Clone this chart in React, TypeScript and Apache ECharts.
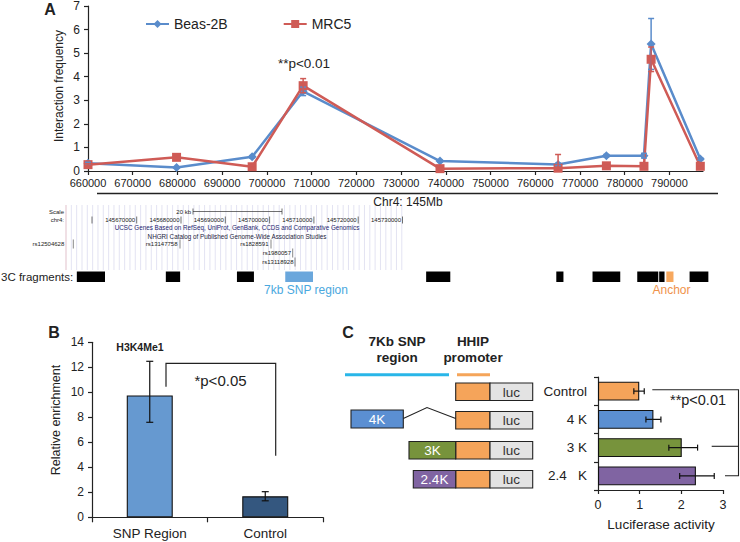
import React, { useEffect, useRef } from "react";
import * as echarts from "echarts";

const FONT = "'Liberation Sans', Arial, Helvetica, sans-serif";

// ---------- Panel A: 3C interaction frequency ----------
const positionsA = [660000, 679800, 696700, 708100, 738700, 765100, 775900, 784300, 785900, 796900];
const beasValues = [0.33, 0.15, 0.6, 3.38, 0.42, 0.28, 0.65, 0.65, 5.39, 0.51];
const beasErrors = [0.04, 0.03, 0.05, 0.18, 0.04, 0.05, 0.05, 0.1, 1.08, 0.05];
const mrc5Values = [0.27, 0.58, 0.18, 3.62, 0.1, 0.12, 0.22, 0.2, 4.74, 0.2];
const mrc5Errors = [0.04, 0.05, 0.05, 0.3, 0.03, 0.58, 0.1, 0.05, 0.52, 0.05];

// 3C fragments (genomic offsets in the same scale as panel A)
const fragmentStarts = [657500, 677400, 693300, 704100, 735600, 764700, 772800, 782800, 787700, 789300, 794500];
const fragmentEnds = [663800, 680600, 697100, 710300, 741000, 766300, 779000, 787500, 788900, 790900, 798700];
const fragmentKinds = ["3C", "3C", "3C", "SNP", "3C", "3C", "3C", "3C", "3C", "anchor", "3C"];

// Genome browser labels
const browserPositions = ["145670000", "145680000", "145690000", "145700000", "145710000", "145720000", "145730000"];
const snpNames = ["rs12504628", "rs13147758", "rs1828591", "rs1980057", "rs13118928"];

// ---------- Panel B: H3K4Me1 enrichment ----------
const enrichCategories = ["SNP Region", "Control"];
const enrichValues = [9.75, 1.68];
const enrichLow = [7.6, 1.32];
const enrichHigh = [12.48, 2.05];

// ---------- Panel C: luciferase ----------
const lucCategories = ["Control", "4 K", "3 K", "2.4\u00a0\u00a0\u00a0K"];
const lucValues = [0.99, 1.33, 2.01, 2.35];
const lucLow = [0.86, 1.15, 1.7, 1.96];
const lucHigh = [1.11, 1.51, 2.39, 2.79];

const BLUE = "#5a8ccb";
const RED = "#cf5b56";
const lucColors = ["#f5a45a", "#5b8fd2", "#77933c", "#8064a2"];
const enrichColors = ["#6699d0", "#34577f"];
const AX = "#222";

const txt = (text: string, x: number, y: number, size: number, o: any = {}) => ({
  type: "text",
  x,
  y,
  rotation: o.rotation || 0,
  silent: true,
  z: 10,
  style: {
    text,
    fontSize: size,
    fontFamily: FONT,
    fontWeight: o.bold ? "bold" : "normal",
    fill: o.color || "#222",
    textAlign: o.align || "center",
    textVerticalAlign: "middle",
    align: o.align || "center",
    verticalAlign: "middle",
    lineHeight: o.lineHeight,
  },
});
const ln = (x1: number, y1: number, x2: number, y2: number, stroke = "#222", lineWidth = 1) => ({
  type: "line",
  silent: true,
  z: 10,
  shape: { x1, y1, x2, y2 },
  style: { stroke, lineWidth },
});
const box = (x: number, y: number, w: number, h: number, fill: string) => ({
  type: "rect",
  silent: true,
  z: 10,
  shape: { x, y, width: w, height: h },
  style: { fill, stroke: "#222", lineWidth: 1.1 },
});

function buildGraphics() {
  const g: any[] = [];
  // panel letters
  g.push(txt("A", 50, 9, 16, { bold: true }));
  g.push(txt("B", 54, 332, 16, { bold: true }));
  g.push(txt("C", 348, 332, 16, { bold: true }));

  // Panel A texts
  g.push(txt("Interaction frequency", 59, 86, 12, { rotation: Math.PI / 2 }));
  g.push(txt("**p<0.01", 304, 63, 13.5));
  g.push(ln(97, 193.5, 718, 193.5, "#222", 1.3));
  g.push(txt("Chr4: 145Mb", 408, 202, 12));

  // genome browser background lines
  for (let x = 66; x <= 406; x += 5.33) {
    g.push({ type: "line", silent: true, z: 1, shape: { x1: x, y1: 205, x2: x, y2: 270 }, style: { stroke: "#dcdcef", lineWidth: 0.8 } });
  }
  g.push({ type: "line", silent: true, z: 1, shape: { x1: 66, y1: 205, x2: 66, y2: 270 }, style: { stroke: "#f0c8c8", lineWidth: 0.8 } });
  const small = 6;
  g.push(txt("Scale", 64, 212, small, { align: "right" }));
  g.push(txt("chr4:", 64, 220, small, { align: "right" }));
  g.push(txt("20 kb", 191, 212, small, { align: "right" }));
  g.push(ln(193, 211.5, 282, 211.5, "#333", 0.7));
  g.push(ln(193, 208.5, 193, 214.5, "#333", 0.7));
  g.push(ln(282, 208.5, 282, 214.5, "#333", 0.7));
  g.push(ln(92, 216.5, 92, 223.5, "#333", 0.7));
  const posEnds = [136.7, 181, 225.3, 269.6, 313.9, 358.2, 402.5];
  browserPositions.forEach((p, i) => {
    g.push(txt(p, posEnds[i] - 1.5, 220, small, { align: "right" }));
    g.push(ln(posEnds[i], 216.5, posEnds[i], 223.5, "#333", 0.7));
  });
  g.push(txt("UCSC Genes Based on RefSeq, UniProt, GenBank, CCDS and Comparative Genomics", 237, 227.5, 6.3, { color: "#1c1c6e" }));
  g.push(txt("NHGRI Catalog of Published Genome-Wide Association Studies", 237, 236, 6.3, { color: "#1c1c40" }));
  const snpRight = [64.3, 177.5, 268.5, 291, 293.5];
  const snpBar = [73.3, 180, 271, 292.7, 295];
  const snpY = [244, 244, 244, 253, 262];
  snpNames.forEach((s, i) => {
    g.push(txt(s, snpRight[i], snpY[i], small, { align: "right" }));
    g.push(ln(snpBar[i], snpY[i] - 4.5, snpBar[i], snpY[i] + 4.5, "#555", 0.7));
  });
  g.push(txt("3C fragments:", 1, 277, 11.5, { align: "left" }));
  g.push(txt("7kb SNP region", 306, 290, 12, { color: "#4aa8de" }));
  g.push(txt("Anchor", 671.5, 290, 12, { color: "#f0934a" }));

  // Panel B texts
  g.push(txt("Relative enrichment", 56, 420, 12.5, { rotation: Math.PI / 2 }));
  g.push(txt("H3K4Me1", 140, 347, 10.5, { bold: true }));
  g.push({
    type: "polyline",
    silent: true,
    z: 10,
    shape: { points: [[166, 386.7], [166, 363.3], [275.7, 363.3], [275.7, 455.7]] },
    style: { stroke: "#222", lineWidth: 1.2, fill: "none" },
  });
  g.push(txt("*p<0.05", 220.5, 380, 15));

  // Panel C diagram
  g.push(txt("7Kb SNP\nregion", 397, 349.5, 13.5, { bold: true, lineHeight: 15.5 }));
  g.push(txt("HHIP\npromoter", 473, 349.5, 13.5, { bold: true, lineHeight: 15.5 }));
  g.push(ln(345, 374.7, 449, 374.7, "#29b6e8", 3));
  g.push(ln(457, 374.7, 490, 374.7, "#f5a55a", 3));
  const rowTop = [383, 411.5, 441.5, 470.5];
  const rowH = 17.5;
  rowTop.forEach((y) => {
    g.push(box(455.7, y, 34.3, rowH, "#f5a45a"));
    g.push(box(490, y, 42.7, rowH, "#e3e3e3"));
    g.push(txt("luc", 511.3, y + rowH / 2 + 0.5, 13.5, { color: "#333" }));
  });
  g.push(box(351, 410, 52.3, 18, "#5b8fd2"));
  g.push(txt("4K", 377, 419.5, 13.5, { color: "#fff" }));
  g.push({
    type: "polyline",
    silent: true,
    z: 10,
    shape: { points: [[403.3, 418.5], [427, 407.5], [455.7, 418.5]] },
    style: { stroke: "#222", lineWidth: 1.1, fill: "none" },
  });
  g.push(box(409, rowTop[2], 46.7, rowH, "#77933c"));
  g.push(txt("3K", 432.5, rowTop[2] + rowH / 2 + 0.5, 13.5, { color: "#fff" }));
  g.push(box(413.3, rowTop[3], 42.4, rowH, "#8064a2"));
  g.push(txt("2.4K", 434.5, rowTop[3] + rowH / 2 + 0.5, 13.5, { color: "#fff" }));

  // Panel C significance
  g.push({
    type: "polyline",
    silent: true,
    z: 10,
    shape: { points: [[652.3, 389.7], [738.5, 389.7], [738.5, 475.7], [725, 475.7]] },
    style: { stroke: "#222", lineWidth: 1.1, fill: "none" },
  });
  g.push(ln(711.7, 446.3, 738.5, 446.3, "#222", 1.1));
  g.push(txt("**p<0.01", 698, 400, 14.5));
  g.push(txt("Luciferase activity", 661, 524, 13.5));
  return g;
}

function errV(color: string, lw: number, cap: number) {
  return (params: any, api: any) => {
    const c = api.value(0);
    const lo = api.coord([c, api.value(1)]);
    const hi = api.coord([c, api.value(2)]);
    const style = { stroke: color, lineWidth: lw };
    return {
      type: "group",
      children: [
        { type: "line", shape: { x1: lo[0], y1: lo[1], x2: hi[0], y2: hi[1] }, style },
        { type: "line", shape: { x1: lo[0] - cap, y1: lo[1], x2: lo[0] + cap, y2: lo[1] }, style },
        { type: "line", shape: { x1: hi[0] - cap, y1: hi[1], x2: hi[0] + cap, y2: hi[1] }, style },
      ],
    };
  };
}

function errH(color: string, lw: number, cap: number) {
  return (params: any, api: any) => {
    const c = api.value(2);
    const lo = api.coord([api.value(0), c]);
    const hi = api.coord([api.value(1), c]);
    const style = { stroke: color, lineWidth: lw };
    return {
      type: "group",
      children: [
        { type: "line", shape: { x1: lo[0], y1: lo[1], x2: hi[0], y2: hi[1] }, style },
        { type: "line", shape: { x1: lo[0], y1: lo[1] - cap, x2: lo[0], y2: lo[1] + cap }, style },
        { type: "line", shape: { x1: hi[0], y1: hi[1] - cap, x2: hi[0], y2: hi[1] + cap }, style },
      ],
    };
  };
}

const axisLine = { show: true, lineStyle: { color: AX, width: 1.2 } };
const axisTick = { show: true, length: 4, lineStyle: { color: AX, width: 1.2 } };

const option: any = {
  animation: false,
  textStyle: { fontFamily: FONT },
  legend: {
    data: ["Beas-2B", "MRC5"],
    left: 140,
    top: 12,
    itemWidth: 23,
    itemHeight: 10,
    itemGap: 55,
    textStyle: { fontSize: 14, color: "#222", fontFamily: FONT },
  },
  grid: [
    { left: 88, top: 3, width: 615, height: 168 },
    { left: 92, top: 342.3, width: 231, height: 175 },
    { left: 598, top: 377, width: 125, height: 113 },
  ],
  xAxis: [
    {
      type: "value",
      gridIndex: 0,
      min: 660000,
      max: 797500,
      interval: 10000,
      axisLine,
      axisTick,
      splitLine: { show: false },
      axisLabel: { formatter: (v: number) => String(v), fontSize: 11, color: AX, margin: 6, showMaxLabel: false },
    },
    {
      type: "category",
      gridIndex: 1,
      data: enrichCategories,
      axisLine,
      axisTick: { show: true, length: 5, lineStyle: { color: AX, width: 1.2 } },
      axisLabel: { fontSize: 13.5, color: AX, margin: 9 },
    },
    {
      type: "value",
      gridIndex: 2,
      min: 0,
      max: 3,
      interval: 1,
      axisLine,
      axisTick,
      splitLine: { show: false },
      axisLabel: { fontSize: 12.5, color: AX, margin: 8 },
    },
  ],
  yAxis: [
    {
      type: "value",
      gridIndex: 0,
      min: 0,
      max: 7,
      interval: 1,
      axisLine,
      axisTick,
      splitLine: { show: false },
      axisLabel: { fontSize: 12, color: AX, margin: 8 },
    },
    {
      type: "value",
      gridIndex: 1,
      min: 0,
      max: 14,
      interval: 2,
      axisLine,
      axisTick,
      splitLine: { show: false },
      axisLabel: { fontSize: 12, color: AX, margin: 8 },
    },
    {
      type: "category",
      gridIndex: 2,
      inverse: true,
      data: lucCategories,
      axisLine,
      axisTick: { show: true, length: 4, lineStyle: { color: AX, width: 1.2 } },
      axisLabel: { fontSize: 13.5, color: AX, margin: 11 },
    },
  ],
  series: [
    {
      name: "Beas-2B",
      type: "line",
      xAxisIndex: 0,
      yAxisIndex: 0,
      data: positionsA.map((x, i) => [x, beasValues[i]]),
      symbol: "diamond",
      symbolSize: 9,
      lineStyle: { color: BLUE, width: 2.5 },
      itemStyle: { color: BLUE },
      z: 3,
    },
    {
      name: "MRC5",
      type: "line",
      xAxisIndex: 0,
      yAxisIndex: 0,
      data: positionsA.map((x, i) => [x, mrc5Values[i]]),
      symbol: "rect",
      symbolSize: 9,
      lineStyle: { color: RED, width: 2.5 },
      itemStyle: { color: RED },
      z: 4,
    },
    {
      type: "custom",
      xAxisIndex: 0,
      yAxisIndex: 0,
      data: positionsA.map((x, i) => [x, Math.max(0, beasValues[i] - beasErrors[i]), beasValues[i] + beasErrors[i]]),
      encode: { x: 0, y: [1, 2] },
      renderItem: errV(BLUE, 1.5, 3),
      z: 5,
    },
    {
      type: "custom",
      xAxisIndex: 0,
      yAxisIndex: 0,
      data: positionsA.map((x, i) => [x, Math.max(0, mrc5Values[i] - mrc5Errors[i]), mrc5Values[i] + mrc5Errors[i]]),
      encode: { x: 0, y: [1, 2] },
      renderItem: errV(RED, 1.5, 3),
      z: 6,
    },
    {
      type: "custom",
      xAxisIndex: 0,
      yAxisIndex: 0,
      clip: false,
      data: fragmentStarts.map((s, i) => [s, fragmentEnds[i], 0]),
      encode: { x: [0, 1], y: 2 },
      renderItem: (params: any, api: any) => {
        const s = api.coord([api.value(0), 0]);
        const e = api.coord([api.value(1), 0]);
        const kind = fragmentKinds[params.dataIndex];
        const fill = kind === "SNP" ? "#6aa7dc" : kind === "anchor" ? "#f7a85e" : "#000";
        return { type: "rect", shape: { x: s[0], y: 271.5, width: e[0] - s[0], height: 10.5 }, style: { fill } };
      },
    },
    {
      type: "bar",
      xAxisIndex: 1,
      yAxisIndex: 1,
      barWidth: 46,
      data: enrichValues.map((v, i) => ({ value: v, itemStyle: { color: enrichColors[i], borderColor: "#111", borderWidth: 1.1 } })),
    },
    {
      type: "custom",
      xAxisIndex: 1,
      yAxisIndex: 1,
      data: enrichValues.map((v, i) => [i, enrichLow[i], enrichHigh[i]]),
      encode: { x: 0, y: [1, 2] },
      renderItem: errV("#111", 1.2, 3.5),
      z: 5,
    },
    {
      type: "bar",
      xAxisIndex: 2,
      yAxisIndex: 2,
      barWidth: 19,
      data: lucValues.map((v, i) => ({ value: v, itemStyle: { color: lucColors[i], borderColor: "#111", borderWidth: 1.1 } })),
    },
    {
      type: "custom",
      xAxisIndex: 2,
      yAxisIndex: 2,
      data: lucValues.map((v, i) => [lucLow[i], lucHigh[i], i]),
      encode: { x: [0, 1], y: 2 },
      renderItem: errH("#111", 1.2, 3),
      z: 5,
    },
  ],
  graphic: buildGraphics(),
};

export default function App() {
  const ref = useRef<HTMLDivElement>(null);
  useEffect(() => {
    const chart = echarts.init(ref.current!, null, { renderer: "svg" });
    chart.setOption(option);
    return () => chart.dispose();
  }, []);
  return <div ref={ref} style={{ position: "absolute", left: 0, top: 0, width: 740, height: 542, background: "#fff" }} />;
}
